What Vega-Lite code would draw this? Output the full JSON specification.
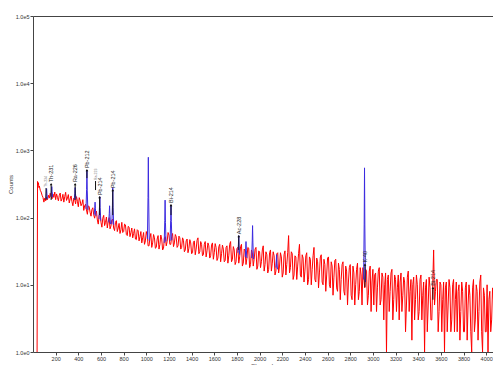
{
  "$schema": "https://vega.github.io/schema/vega-lite/v6.json",
  "width": 460,
  "height": 336,
  "autosize": {"type": "none"},
  "padding": {"left": 33, "top": 16, "right": 0, "bottom": 13},
  "background": "white",
  "config": {
    "view": {"stroke": null},
    "font": "Liberation Sans",
    "axis": {"grid": false, "domainColor": "#444", "tickColor": "#444", "labelColor": "#333", "titleColor": "#333", "labelFontSize": 5.5, "titleFontSize": 6, "titleFontWeight": "normal", "tickSize": 3, "labelPadding": 1}
  },
  "datasets": {
    "spec": [
      {"ch": 36, "cnt": 1}, {"ch": 40, "cnt": 345}, {"ch": 44, "cnt": 310}, {"ch": 48, "cnt": 330}, {"ch": 52, "cnt": 280}, {"ch": 56, "cnt": 295}, {"ch": 64, "cnt": 255}, {"ch": 72, "cnt": 240}, {"ch": 80, "cnt": 215}, {"ch": 88, "cnt": 200}, {"ch": 96, "cnt": 170}, {"ch": 104, "cnt": 195}, {"ch": 112, "cnt": 178}, {"ch": 120, "cnt": 200}, {"ch": 128, "cnt": 185}, {"ch": 136, "cnt": 215}, {"ch": 144, "cnt": 195}, {"ch": 152, "cnt": 230}, {"ch": 160, "cnt": 205}, {"ch": 168, "cnt": 190}, {"ch": 176, "cnt": 225}, {"ch": 184, "cnt": 200}, {"ch": 192, "cnt": 240}, {"ch": 200, "cnt": 185},
      {"ch": 208, "cnt": 225}, {"ch": 216, "cnt": 200}, {"ch": 224, "cnt": 178}, {"ch": 232, "cnt": 215}, {"ch": 240, "cnt": 232}, {"ch": 248, "cnt": 176}, {"ch": 256, "cnt": 190}, {"ch": 264, "cnt": 222}, {"ch": 272, "cnt": 170}, {"ch": 280, "cnt": 205}, {"ch": 288, "cnt": 238}, {"ch": 296, "cnt": 180}, {"ch": 304, "cnt": 196}, {"ch": 312, "cnt": 220}, {"ch": 320, "cnt": 165}, {"ch": 328, "cnt": 190}, {"ch": 336, "cnt": 210}, {"ch": 344, "cnt": 172}, {"ch": 352, "cnt": 150}, {"ch": 360, "cnt": 195}, {"ch": 368, "cnt": 188}, {"ch": 376, "cnt": 160}, {"ch": 384, "cnt": 205}, {"ch": 392, "cnt": 175}, {"ch": 400, "cnt": 145}, {"ch": 408, "cnt": 198}, {"ch": 416, "cnt": 180}, {"ch": 424, "cnt": 150}, {"ch": 432, "cnt": 160}, {"ch": 440, "cnt": 185}, {"ch": 448, "cnt": 128}, {"ch": 456, "cnt": 150}, {"ch": 464, "cnt": 158}, {"ch": 472, "cnt": 130}, {"ch": 480, "cnt": 112}, {"ch": 488, "cnt": 150}, {"ch": 496, "cnt": 145}, {"ch": 504, "cnt": 120}, {"ch": 512, "cnt": 105}, {"ch": 520, "cnt": 132}, {"ch": 528, "cnt": 140}, {"ch": 536, "cnt": 110}, {"ch": 544, "cnt": 98}, {"ch": 552, "cnt": 118}, {"ch": 560, "cnt": 125}, {"ch": 568, "cnt": 92}, {"ch": 576, "cnt": 80}, {"ch": 584, "cnt": 108}, {"ch": 592, "cnt": 115}, {"ch": 600, "cnt": 85}, {"ch": 608, "cnt": 72}, {"ch": 616, "cnt": 98}, {"ch": 624, "cnt": 108}, {"ch": 632, "cnt": 76}, {"ch": 640, "cnt": 85}, {"ch": 648, "cnt": 102}, {"ch": 656, "cnt": 70}, {"ch": 664, "cnt": 88}, {"ch": 672, "cnt": 100}, {"ch": 680, "cnt": 68}, {"ch": 688, "cnt": 75}, {"ch": 696, "cnt": 92}, {"ch": 704, "cnt": 95}, {"ch": 712, "cnt": 70}, {"ch": 720, "cnt": 64}, {"ch": 728, "cnt": 85}, {"ch": 736, "cnt": 90}, {"ch": 744, "cnt": 62}, {"ch": 752, "cnt": 70}, {"ch": 760, "cnt": 82}, {"ch": 768, "cnt": 58}, {"ch": 776, "cnt": 66}, {"ch": 784, "cnt": 85}, {"ch": 792, "cnt": 60}, {"ch": 800, "cnt": 62}, {"ch": 808, "cnt": 80}, {"ch": 816, "cnt": 78}, {"ch": 824, "cnt": 56}, {"ch": 832, "cnt": 54}, {"ch": 840, "cnt": 74}, {"ch": 848, "cnt": 72}, {"ch": 856, "cnt": 52}, {"ch": 864, "cnt": 60}, {"ch": 872, "cnt": 70}, {"ch": 880, "cnt": 50}, {"ch": 888, "cnt": 58}, {"ch": 896, "cnt": 68}, {"ch": 904, "cnt": 48}, {"ch": 912, "cnt": 47}, {"ch": 920, "cnt": 66}, {"ch": 928, "cnt": 64}, {"ch": 936, "cnt": 45}, {"ch": 944, "cnt": 52}, {"ch": 952, "cnt": 62}, {"ch": 960, "cnt": 42}, {"ch": 968, "cnt": 50}, {"ch": 976, "cnt": 60}, {"ch": 984, "cnt": 40}, {"ch": 992, "cnt": 45}, {"ch": 1000, "cnt": 62}, {"ch": 1008, "cnt": 55}, {"ch": 1016, "cnt": 38}, {"ch": 1024, "cnt": 38}, {"ch": 1032, "cnt": 50}, {"ch": 1040, "cnt": 58}, {"ch": 1048, "cnt": 36}, {"ch": 1056, "cnt": 42}, {"ch": 1064, "cnt": 56}, {"ch": 1072, "cnt": 50}, {"ch": 1080, "cnt": 35}, {"ch": 1088, "cnt": 36}, {"ch": 1096, "cnt": 48}, {"ch": 1104, "cnt": 54}, {"ch": 1112, "cnt": 34}, {"ch": 1120, "cnt": 40}, {"ch": 1128, "cnt": 55}, {"ch": 1136, "cnt": 48}, {"ch": 1144, "cnt": 33}, {"ch": 1152, "cnt": 35}, {"ch": 1160, "cnt": 50}, {"ch": 1168, "cnt": 52}, {"ch": 1176, "cnt": 38}, {"ch": 1184, "cnt": 44}, {"ch": 1192, "cnt": 60}, {"ch": 1200, "cnt": 55}, {"ch": 1208, "cnt": 40}, {"ch": 1216, "cnt": 40}, {"ch": 1224, "cnt": 52}, {"ch": 1232, "cnt": 58}, {"ch": 1240, "cnt": 37}, {"ch": 1248, "cnt": 42}, {"ch": 1256, "cnt": 56}, {"ch": 1264, "cnt": 52}, {"ch": 1272, "cnt": 36}, {"ch": 1280, "cnt": 38}, {"ch": 1288, "cnt": 53}, {"ch": 1296, "cnt": 50}, {"ch": 1304, "cnt": 34}, {"ch": 1312, "cnt": 36}, {"ch": 1320, "cnt": 50}, {"ch": 1328, "cnt": 46}, {"ch": 1336, "cnt": 31}, {"ch": 1344, "cnt": 33}, {"ch": 1352, "cnt": 45}, {"ch": 1360, "cnt": 48}, {"ch": 1368, "cnt": 30}, {"ch": 1376, "cnt": 35}, {"ch": 1384, "cnt": 47}, {"ch": 1392, "cnt": 42}, {"ch": 1400, "cnt": 29}, {"ch": 1408, "cnt": 30}, {"ch": 1416, "cnt": 43}, {"ch": 1424, "cnt": 45}, {"ch": 1432, "cnt": 28}, {"ch": 1440, "cnt": 34}, {"ch": 1448, "cnt": 46}, {"ch": 1456, "cnt": 50}, {"ch": 1464, "cnt": 29}, {"ch": 1472, "cnt": 31}, {"ch": 1480, "cnt": 44}, {"ch": 1488, "cnt": 40}, {"ch": 1496, "cnt": 27}, {"ch": 1504, "cnt": 28}, {"ch": 1512, "cnt": 40}, {"ch": 1520, "cnt": 44}, {"ch": 1528, "cnt": 26}, {"ch": 1536, "cnt": 32}, {"ch": 1544, "cnt": 42}, {"ch": 1552, "cnt": 38}, {"ch": 1560, "cnt": 25}, {"ch": 1568, "cnt": 27}, {"ch": 1576, "cnt": 39}, {"ch": 1584, "cnt": 42}, {"ch": 1592, "cnt": 24}, {"ch": 1600, "cnt": 30}, {"ch": 1608, "cnt": 41}, {"ch": 1616, "cnt": 36}, {"ch": 1624, "cnt": 23}, {"ch": 1632, "cnt": 25}, {"ch": 1640, "cnt": 37}, {"ch": 1648, "cnt": 40}, {"ch": 1656, "cnt": 22}, {"ch": 1664, "cnt": 29}, {"ch": 1672, "cnt": 39}, {"ch": 1680, "cnt": 34}, {"ch": 1688, "cnt": 22}, {"ch": 1696, "cnt": 23}, {"ch": 1704, "cnt": 36}, {"ch": 1712, "cnt": 38}, {"ch": 1720, "cnt": 21}, {"ch": 1728, "cnt": 27}, {"ch": 1736, "cnt": 40}, {"ch": 1744, "cnt": 44}, {"ch": 1752, "cnt": 22}, {"ch": 1760, "cnt": 24}, {"ch": 1768, "cnt": 37}, {"ch": 1776, "cnt": 33}, {"ch": 1784, "cnt": 20}, {"ch": 1792, "cnt": 22}, {"ch": 1800, "cnt": 35}, {"ch": 1808, "cnt": 36}, {"ch": 1816, "cnt": 21}, {"ch": 1824, "cnt": 26}, {"ch": 1832, "cnt": 37}, {"ch": 1840, "cnt": 40}, {"ch": 1848, "cnt": 19}, {"ch": 1856, "cnt": 21}, {"ch": 1864, "cnt": 34}, {"ch": 1872, "cnt": 32}, {"ch": 1880, "cnt": 20}, {"ch": 1888, "cnt": 25}, {"ch": 1896, "cnt": 36}, {"ch": 1904, "cnt": 35}, {"ch": 1912, "cnt": 18}, {"ch": 1920, "cnt": 20}, {"ch": 1928, "cnt": 33}, {"ch": 1936, "cnt": 30}, {"ch": 1944, "cnt": 19}, {"ch": 1952, "cnt": 24}, {"ch": 1960, "cnt": 34}, {"ch": 1968, "cnt": 36}, {"ch": 1976, "cnt": 17}, {"ch": 1984, "cnt": 19}, {"ch": 1992, "cnt": 32}, {"ch": 2000, "cnt": 31}, {"ch": 2008, "cnt": 18}, {"ch": 2016, "cnt": 22}, {"ch": 2024, "cnt": 33}, {"ch": 2032, "cnt": 38}, {"ch": 2040, "cnt": 16}, {"ch": 2048, "cnt": 20}, {"ch": 2056, "cnt": 31}, {"ch": 2064, "cnt": 28}, {"ch": 2072, "cnt": 15}, {"ch": 2080, "cnt": 17}, {"ch": 2088, "cnt": 30}, {"ch": 2096, "cnt": 33}, {"ch": 2104, "cnt": 16}, {"ch": 2112, "cnt": 21}, {"ch": 2120, "cnt": 31}, {"ch": 2128, "cnt": 27}, {"ch": 2136, "cnt": 14}, {"ch": 2144, "cnt": 16}, {"ch": 2152, "cnt": 29}, {"ch": 2160, "cnt": 30}, {"ch": 2168, "cnt": 15}, {"ch": 2176, "cnt": 19}, {"ch": 2184, "cnt": 30}, {"ch": 2192, "cnt": 26}, {"ch": 2200, "cnt": 13}, {"ch": 2208, "cnt": 15}, {"ch": 2216, "cnt": 28}, {"ch": 2224, "cnt": 32}, {"ch": 2232, "cnt": 14}, {"ch": 2240, "cnt": 20}, {"ch": 2248, "cnt": 30}, {"ch": 2256, "cnt": 54}, {"ch": 2264, "cnt": 15}, {"ch": 2272, "cnt": 18}, {"ch": 2280, "cnt": 31}, {"ch": 2288, "cnt": 29}, {"ch": 2296, "cnt": 12}, {"ch": 2304, "cnt": 14}, {"ch": 2312, "cnt": 27}, {"ch": 2320, "cnt": 26}, {"ch": 2328, "cnt": 12}, {"ch": 2336, "cnt": 19}, {"ch": 2344, "cnt": 29}, {"ch": 2352, "cnt": 40}, {"ch": 2360, "cnt": 14}, {"ch": 2368, "cnt": 13}, {"ch": 2376, "cnt": 28}, {"ch": 2384, "cnt": 25}, {"ch": 2392, "cnt": 11}, {"ch": 2400, "cnt": 16}, {"ch": 2408, "cnt": 27}, {"ch": 2416, "cnt": 30}, {"ch": 2424, "cnt": 10}, {"ch": 2432, "cnt": 12}, {"ch": 2440, "cnt": 26}, {"ch": 2448, "cnt": 24}, {"ch": 2456, "cnt": 10}, {"ch": 2464, "cnt": 17}, {"ch": 2472, "cnt": 27}, {"ch": 2480, "cnt": 36}, {"ch": 2488, "cnt": 12}, {"ch": 2496, "cnt": 11}, {"ch": 2504, "cnt": 25}, {"ch": 2512, "cnt": 22}, {"ch": 2520, "cnt": 9}, {"ch": 2528, "cnt": 15}, {"ch": 2536, "cnt": 26}, {"ch": 2544, "cnt": 28}, {"ch": 2552, "cnt": 11}, {"ch": 2560, "cnt": 10}, {"ch": 2568, "cnt": 24}, {"ch": 2576, "cnt": 20}, {"ch": 2584, "cnt": 8}, {"ch": 2592, "cnt": 14}, {"ch": 2600, "cnt": 25}, {"ch": 2608, "cnt": 26}, {"ch": 2616, "cnt": 10}, {"ch": 2624, "cnt": 9}, {"ch": 2632, "cnt": 22}, {"ch": 2640, "cnt": 19}, {"ch": 2648, "cnt": 7}, {"ch": 2656, "cnt": 13}, {"ch": 2664, "cnt": 23}, {"ch": 2672, "cnt": 24}, {"ch": 2680, "cnt": 9}, {"ch": 2688, "cnt": 8}, {"ch": 2696, "cnt": 21}, {"ch": 2704, "cnt": 17}, {"ch": 2712, "cnt": 6}, {"ch": 2720, "cnt": 12}, {"ch": 2728, "cnt": 20}, {"ch": 2736, "cnt": 22}, {"ch": 2744, "cnt": 8}, {"ch": 2752, "cnt": 7}, {"ch": 2760, "cnt": 19}, {"ch": 2768, "cnt": 16}, {"ch": 2776, "cnt": 5}, {"ch": 2784, "cnt": 11}, {"ch": 2792, "cnt": 18}, {"ch": 2800, "cnt": 20}, {"ch": 2808, "cnt": 7}, {"ch": 2816, "cnt": 6}, {"ch": 2824, "cnt": 19}, {"ch": 2832, "cnt": 15}, {"ch": 2840, "cnt": 5}, {"ch": 2848, "cnt": 10}, {"ch": 2856, "cnt": 17}, {"ch": 2864, "cnt": 21}, {"ch": 2872, "cnt": 6}, {"ch": 2880, "cnt": 8}, {"ch": 2888, "cnt": 18}, {"ch": 2896, "cnt": 14}, {"ch": 2904, "cnt": 5}, {"ch": 2912, "cnt": 18}, {"ch": 2928, "cnt": 9}, {"ch": 2936, "cnt": 17}, {"ch": 2944, "cnt": 16}, {"ch": 2952, "cnt": 5}, {"ch": 2960, "cnt": 7}, {"ch": 2968, "cnt": 16}, {"ch": 2976, "cnt": 19}, {"ch": 2984, "cnt": 4}, {"ch": 2992, "cnt": 11}, {"ch": 3000, "cnt": 17}, {"ch": 3008, "cnt": 5}, {"ch": 3016, "cnt": 14}, {"ch": 3024, "cnt": 15}, {"ch": 3032, "cnt": 4}, {"ch": 3040, "cnt": 9}, {"ch": 3048, "cnt": 16}, {"ch": 3056, "cnt": 18}, {"ch": 3064, "cnt": 5}, {"ch": 3072, "cnt": 6}, {"ch": 3080, "cnt": 15}, {"ch": 3088, "cnt": 13}, {"ch": 3096, "cnt": 3}, {"ch": 3104, "cnt": 10}, {"ch": 3112, "cnt": 15}, {"ch": 3120, "cnt": 1}, {"ch": 3128, "cnt": 12}, {"ch": 3136, "cnt": 14}, {"ch": 3144, "cnt": 4}, {"ch": 3152, "cnt": 8}, {"ch": 3160, "cnt": 15}, {"ch": 3168, "cnt": 17}, {"ch": 3176, "cnt": 3}, {"ch": 3184, "cnt": 6}, {"ch": 3192, "cnt": 14}, {"ch": 3200, "cnt": 12}, {"ch": 3208, "cnt": 4}, {"ch": 3216, "cnt": 9}, {"ch": 3224, "cnt": 14}, {"ch": 3232, "cnt": 3}, {"ch": 3240, "cnt": 11}, {"ch": 3248, "cnt": 15}, {"ch": 3256, "cnt": 4}, {"ch": 3264, "cnt": 7}, {"ch": 3272, "cnt": 13}, {"ch": 3280, "cnt": 11}, {"ch": 3288, "cnt": 2}, {"ch": 3296, "cnt": 5}, {"ch": 3304, "cnt": 13}, {"ch": 3312, "cnt": 16}, {"ch": 3320, "cnt": 4}, {"ch": 3328, "cnt": 8}, {"ch": 3336, "cnt": 12}, {"ch": 3344, "cnt": 1.5}, {"ch": 3352, "cnt": 10}, {"ch": 3360, "cnt": 13}, {"ch": 3368, "cnt": 3}, {"ch": 3376, "cnt": 6}, {"ch": 3384, "cnt": 14}, {"ch": 3392, "cnt": 10}, {"ch": 3400, "cnt": 3}, {"ch": 3408, "cnt": 4}, {"ch": 3416, "cnt": 12}, {"ch": 3424, "cnt": 14}, {"ch": 3432, "cnt": 3}, {"ch": 3440, "cnt": 7}, {"ch": 3448, "cnt": 11}, {"ch": 3456, "cnt": 1}, {"ch": 3464, "cnt": 9}, {"ch": 3472, "cnt": 12}, {"ch": 3480, "cnt": 2}, {"ch": 3488, "cnt": 5}, {"ch": 3496, "cnt": 13}, {"ch": 3504, "cnt": 9}, {"ch": 3512, "cnt": 3}, {"ch": 3520, "cnt": 3}, {"ch": 3528, "cnt": 10}, {"ch": 3536, "cnt": 33}, {"ch": 3544, "cnt": 5}, {"ch": 3552, "cnt": 8}, {"ch": 3560, "cnt": 12}, {"ch": 3568, "cnt": 12}, {"ch": 3576, "cnt": 2}, {"ch": 3584, "cnt": 4}, {"ch": 3592, "cnt": 11}, {"ch": 3600, "cnt": 10}, {"ch": 3608, "cnt": 2}, {"ch": 3616, "cnt": 6}, {"ch": 3624, "cnt": 11}, {"ch": 3632, "cnt": 1}, {"ch": 3640, "cnt": 9}, {"ch": 3648, "cnt": 11}, {"ch": 3656, "cnt": 2}, {"ch": 3664, "cnt": 5}, {"ch": 3672, "cnt": 12}, {"ch": 3680, "cnt": 9}, {"ch": 3688, "cnt": 2}, {"ch": 3696, "cnt": 3}, {"ch": 3704, "cnt": 10}, {"ch": 3712, "cnt": 12}, {"ch": 3720, "cnt": 2}, {"ch": 3728, "cnt": 6}, {"ch": 3736, "cnt": 11}, {"ch": 3744, "cnt": 2}, {"ch": 3752, "cnt": 8}, {"ch": 3760, "cnt": 10}, {"ch": 3768, "cnt": 1.5}, {"ch": 3776, "cnt": 4}, {"ch": 3784, "cnt": 11}, {"ch": 3792, "cnt": 8}, {"ch": 3800, "cnt": 2}, {"ch": 3808, "cnt": 2}, {"ch": 3816, "cnt": 9}, {"ch": 3824, "cnt": 11}, {"ch": 3832, "cnt": 1.5}, {"ch": 3840, "cnt": 5}, {"ch": 3848, "cnt": 10}, {"ch": 3856, "cnt": 7}, {"ch": 3864, "cnt": 2}, {"ch": 3872, "cnt": 1}, {"ch": 3880, "cnt": 9}, {"ch": 3888, "cnt": 12}, {"ch": 3896, "cnt": 2}, {"ch": 3904, "cnt": 3}, {"ch": 3912, "cnt": 10}, {"ch": 3920, "cnt": 8}, {"ch": 3928, "cnt": 1.5}, {"ch": 3936, "cnt": 4}, {"ch": 3944, "cnt": 11}, {"ch": 3952, "cnt": 14}, {"ch": 3960, "cnt": 2}, {"ch": 3968, "cnt": 1}, {"ch": 3976, "cnt": 9}, {"ch": 3984, "cnt": 7}, {"ch": 3992, "cnt": 2}, {"ch": 4000, "cnt": 2}, {"ch": 4008, "cnt": 10}, {"ch": 4016, "cnt": 1}, {"ch": 4024, "cnt": 6}, {"ch": 4032, "cnt": 8}, {"ch": 4040, "cnt": 2}, {"ch": 4048, "cnt": 3}, {"ch": 4056, "cnt": 9}, {"ch": 4064, "cnt": 6}
    ],
    "peaks": [
      {"p": "a", "ch": 112, "cnt": 190}, {"p": "a", "ch": 117, "cnt": 230}, {"p": "a", "ch": 120, "cnt": 270}, {"p": "a", "ch": 123, "cnt": 225}, {"p": "a", "ch": 128, "cnt": 190},
      {"p": "b", "ch": 158, "cnt": 205}, {"p": "b", "ch": 163, "cnt": 250}, {"p": "b", "ch": 166, "cnt": 290}, {"p": "b", "ch": 169, "cnt": 245}, {"p": "b", "ch": 174, "cnt": 200},
      {"p": "c", "ch": 364, "cnt": 185}, {"p": "c", "ch": 369, "cnt": 230}, {"p": "c", "ch": 372, "cnt": 280}, {"p": "c", "ch": 375, "cnt": 225}, {"p": "c", "ch": 380, "cnt": 190},
      {"p": "d", "ch": 468, "cnt": 135}, {"p": "d", "ch": 473, "cnt": 260}, {"p": "d", "ch": 476, "cnt": 505}, {"p": "d", "ch": 479, "cnt": 250}, {"p": "d", "ch": 484, "cnt": 130},
      {"p": "e", "ch": 540, "cnt": 110}, {"p": "e", "ch": 545, "cnt": 140}, {"p": "e", "ch": 548, "cnt": 170}, {"p": "e", "ch": 551, "cnt": 135}, {"p": "e", "ch": 556, "cnt": 105},
      {"p": "f", "ch": 582, "cnt": 95}, {"p": "f", "ch": 587, "cnt": 145}, {"p": "f", "ch": 590, "cnt": 205}, {"p": "f", "ch": 593, "cnt": 140}, {"p": "f", "ch": 598, "cnt": 90},
      {"p": "g", "ch": 668, "cnt": 85}, {"p": "g", "ch": 673, "cnt": 115}, {"p": "g", "ch": 676, "cnt": 150}, {"p": "g", "ch": 679, "cnt": 110}, {"p": "g", "ch": 684, "cnt": 80},
      {"p": "h", "ch": 696, "cnt": 80}, {"p": "h", "ch": 701, "cnt": 150}, {"p": "h", "ch": 704, "cnt": 280}, {"p": "h", "ch": 707, "cnt": 140}, {"p": "h", "ch": 712, "cnt": 78},
      {"p": "i", "ch": 1010, "cnt": 48}, {"p": "i", "ch": 1015, "cnt": 200}, {"p": "i", "ch": 1018, "cnt": 790}, {"p": "i", "ch": 1021, "cnt": 190}, {"p": "i", "ch": 1026, "cnt": 45},
      {"p": "j", "ch": 1158, "cnt": 42}, {"p": "j", "ch": 1163, "cnt": 90}, {"p": "j", "ch": 1166, "cnt": 182}, {"p": "j", "ch": 1169, "cnt": 85}, {"p": "j", "ch": 1174, "cnt": 44},
      {"p": "k", "ch": 1210, "cnt": 45}, {"p": "k", "ch": 1215, "cnt": 90}, {"p": "k", "ch": 1218, "cnt": 152}, {"p": "k", "ch": 1221, "cnt": 88}, {"p": "k", "ch": 1226, "cnt": 46},
      {"p": "l", "ch": 1808, "cnt": 30}, {"p": "l", "ch": 1813, "cnt": 40}, {"p": "l", "ch": 1816, "cnt": 54}, {"p": "l", "ch": 1819, "cnt": 38}, {"p": "l", "ch": 1824, "cnt": 28},
      {"p": "m", "ch": 1874, "cnt": 26}, {"p": "m", "ch": 1877, "cnt": 34}, {"p": "m", "ch": 1880, "cnt": 44}, {"p": "m", "ch": 1883, "cnt": 32}, {"p": "m", "ch": 1888, "cnt": 25},
      {"p": "n", "ch": 1930, "cnt": 25}, {"p": "n", "ch": 1935, "cnt": 45}, {"p": "n", "ch": 1938, "cnt": 76}, {"p": "n", "ch": 1941, "cnt": 42}, {"p": "n", "ch": 1946, "cnt": 24},
      {"p": "o", "ch": 2144, "cnt": 18}, {"p": "o", "ch": 2147, "cnt": 22}, {"p": "o", "ch": 2150, "cnt": 28}, {"p": "o", "ch": 2153, "cnt": 21}, {"p": "o", "ch": 2158, "cnt": 17},
      {"p": "q", "ch": 2918, "cnt": 12}, {"p": "q", "ch": 2923, "cnt": 80}, {"p": "q", "ch": 2926, "cnt": 550}, {"p": "q", "ch": 2929, "cnt": 75}, {"p": "q", "ch": 2934, "cnt": 11}
    ],
    "labels": [
      {"name": "Th-231", "ch": 160, "arrow": 315, "end": 183},
      {"name": "Ra-226", "ch": 372, "arrow": 315, "end": 183},
      {"name": "Pb-212", "ch": 476, "arrow": 509, "end": 387},
      {"name": "Pb-214", "ch": 588, "arrow": 202, "end": 109},
      {"name": "Pb-214", "ch": 704, "arrow": 257, "end": 109},
      {"name": "Bi-214", "ch": 1218, "arrow": 154, "end": 109},
      {"name": "Ac-228", "ch": 1816, "arrow": 53, "end": 33},
      {"name": "K-40", "ch": 2930, "arrow": 20, "end": 9.3},
      {"name": "Bi-214", "ch": 3530, "arrow": 9, "end": 6}
    ],
    "minor": [
      {"name": "Th-234", "ch": 115, "arrow": 275, "end": 183},
      {"name": "Ra-223", "ch": 552, "arrow": 350, "end": 257}
    ]
  },
  "layer": [
    {
      "data": {"name": "spec"},
      "mark": {"type": "line", "color": "#ff0000", "strokeWidth": 1, "clip": true},
      "encoding": {
        "x": {"field": "ch", "type": "quantitative", "scale": {"domain": [0, 4060], "nice": false, "zero": false}, "axis": {"values": [200, 400, 600, 800, 1000, 1200, 1400, 1600, 1800, 2000, 2200, 2400, 2600, 2800, 3000, 3200, 3400, 3600, 3800, 4000], "title": "Channels", "titlePadding": 1, "format": "d"}},
        "y": {"field": "cnt", "type": "quantitative", "scale": {"type": "log", "domain": [1, 100000], "nice": false}, "axis": {"values": [1, 10, 100, 1000, 10000, 100000], "labelExpr": "'1.0e' + round(log(datum.value)/LN10)", "title": "Counts", "titlePadding": 2}}
      }
    },
    {
      "data": {"name": "peaks"},
      "mark": {"type": "line", "color": "#3b2ae0", "strokeWidth": 1, "clip": true},
      "encoding": {
        "x": {"field": "ch", "type": "quantitative", "axis": {"orient": "top", "labels": false, "ticks": false, "title": null, "domainColor": "#444"}},
        "y": {"field": "cnt", "type": "quantitative"},
        "detail": {"field": "p"}
      }
    },
    {
      "data": {"name": "labels"},
      "mark": {"type": "rule", "color": "#111", "strokeWidth": 1},
      "encoding": {
        "x": {"field": "ch", "type": "quantitative", "axis": null},
        "y": {"field": "arrow", "type": "quantitative"},
        "y2": {"field": "end"}
      }
    },
    {
      "data": {"name": "labels"},
      "mark": {"type": "point", "shape": "triangle-up", "filled": true, "color": "#111", "size": 7, "opacity": 1},
      "encoding": {
        "x": {"field": "ch", "type": "quantitative", "axis": null},
        "y": {"field": "arrow", "type": "quantitative"}
      }
    },
    {
      "data": {"name": "labels"},
      "mark": {"type": "text", "angle": 270, "align": "left", "baseline": "middle", "dx": 2, "fontSize": 5.5, "color": "#222"},
      "encoding": {
        "x": {"field": "ch", "type": "quantitative", "axis": null},
        "y": {"field": "arrow", "type": "quantitative"},
        "text": {"field": "name"}
      }
    },
    {
      "data": {"name": "minor"},
      "mark": {"type": "rule", "color": "#111", "strokeWidth": 1},
      "encoding": {
        "x": {"field": "ch", "type": "quantitative", "axis": null},
        "y": {"field": "arrow", "type": "quantitative"},
        "y2": {"field": "end"}
      }
    },
    {
      "data": {"name": "minor"},
      "mark": {"type": "text", "angle": 270, "align": "left", "baseline": "middle", "dx": 1, "fontSize": 3.5, "color": "#777"},
      "encoding": {
        "x": {"field": "ch", "type": "quantitative", "axis": null},
        "y": {"field": "arrow", "type": "quantitative"},
        "text": {"field": "name"}
      }
    }
  ],
  "resolve": {"axis": {"x": "independent"}}
}
